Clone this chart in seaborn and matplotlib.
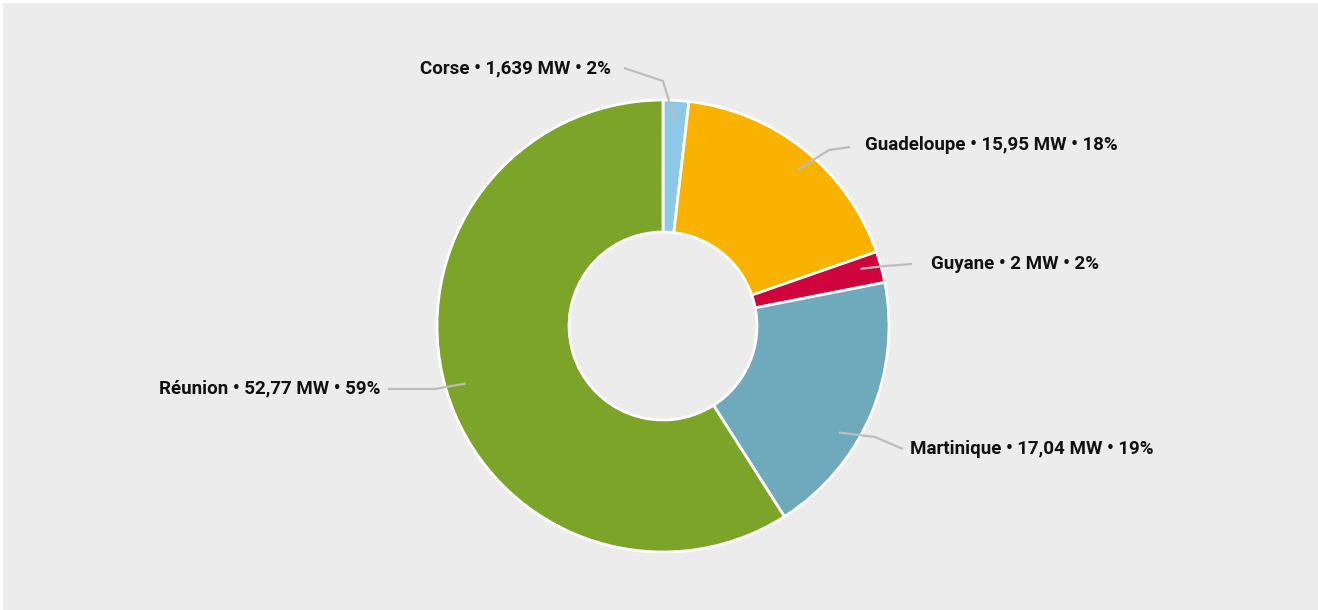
import numpy as np
import seaborn as sns
import matplotlib.pyplot as plt
from matplotlib.patches import Rectangle

sns.set_theme(style="white")
plt.rcParams['font.family'] = ['Liberation Sans Narrow', 'Roboto', 'DejaVu Sans']

regions = ['Corse', 'Guadeloupe', 'Guyane', 'Martinique', 'Réunion']
mw = [1.639, 15.95, 2, 17.04, 52.77]
mw_text = ['1,639', '15,95', '2', '17,04', '52,77']
colors = ['#8DC8E8', '#F9B200', '#D0043C', '#6EA9BC', '#7BA428']

bg = '#EBECEB'
W, H = 1318, 610
cx, cy, R = 663, H - 326, 226

fig = plt.figure(figsize=(13.18, 6.10), dpi=100, facecolor='white')
fig.patches.append(Rectangle((3 / W, 0), 1, 1 - 3 / H, transform=fig.transFigure,
                             facecolor=bg, edgecolor='none', zorder=-10))
ax = fig.add_axes([0, 0, 1, 1])
ax.set_facecolor('none')
ax.set_zorder(5)

wedges, _ = ax.pie(mw, colors=colors, startangle=90, counterclock=False,
                   center=(cx, cy), radius=R,
                   wedgeprops=dict(width=R - 94, edgecolor='white', linewidth=2))

total = sum(mw)
# leader line layout in pixels (x, y from top)
ang_shift = [0, -2, 1, -8, 0]
elbows = [(663, 81), (829, 150), (885, 266), (875, 437), (435, 389)]
ends = [(624, 68), (850, 147), (912, 264), (903, 449), (388, 389)]
texts = [(611, 68, 'right'), (865, 145, 'left'), (931, 264, 'left'),
         (910, 449, 'left'), (380, 388, 'right')]

for w, name, v, t, sh, el, en, tx in zip(wedges, regions, mw, mw_text, ang_shift,
                                         elbows, ends, texts):
    ang = np.deg2rad((w.theta1 + w.theta2) / 2 + sh)
    sx = cx + 0.91 * R * np.cos(ang)
    sy = cy + 0.91 * R * np.sin(ang)
    ax.plot([sx, el[0], en[0]], [sy, H - el[1], H - en[1]], color='#BDBDBD', lw=1.6,
            solid_capstyle='butt', zorder=5)
    pct = round(v / total * 100)
    ax.text(tx[0], H - tx[1], f'{name} • {t} MW • {pct}%', ha=tx[2], va='center',
            fontsize=13.5, fontweight='bold', color='#111111')

ax.set_xlim(0, W)
ax.set_ylim(0, H)
ax.set_aspect('equal')
ax.axis('off')

plt.savefig('out.png', dpi=100, facecolor='white')
